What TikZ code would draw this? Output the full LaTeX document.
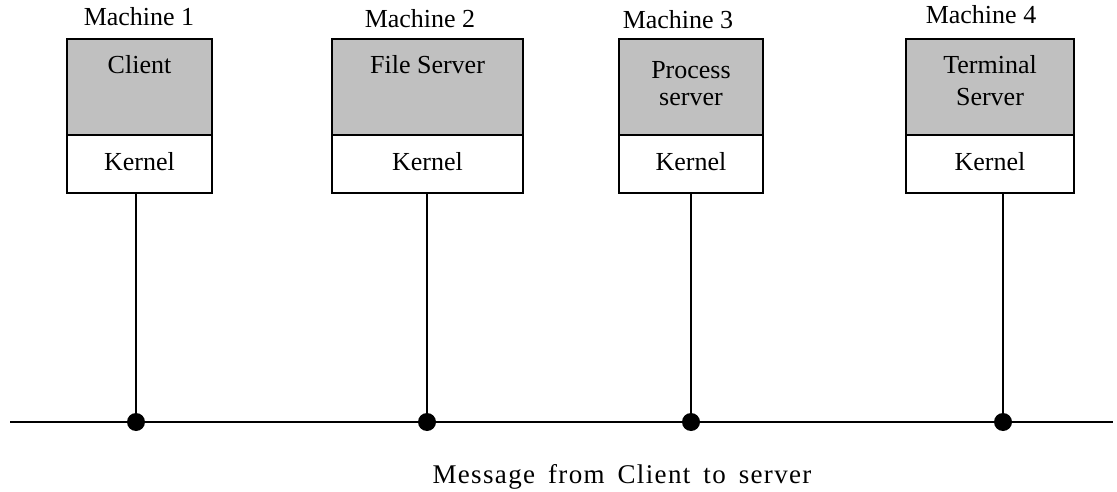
\documentclass[tikz,border=0pt]{standalone}
\usepackage{fontspec}
\setmainfont{Liberation Serif}
\newfontfamily\msgfont[LetterSpace=5]{Liberation Serif}
\definecolor{appgray}{HTML}{C0C0C0}
\begin{document}
\begin{tikzpicture}[x=1pt,y=-1pt,
  wire/.style={line width=1.8pt, black},
  appbox/.style={draw, line width=1.8pt, fill=appgray, rectangle, inner sep=0pt, minimum height=96pt},
  kernbox/.style={draw, line width=1.8pt, fill=white, rectangle, inner sep=0pt, minimum height=58pt},
  txt/.style={font=\fontsize{26}{30}\selectfont, inner sep=0pt, anchor=base},
  tap/.style={circle, fill=black, inner sep=0pt, minimum size=18pt}
]
\useasboundingbox (0,0) rectangle (1117,492);

% bus
\coordinate (busL) at (10,422);
\coordinate (busR) at (1113,422);
\draw[wire] (busL) -- (busR);

% machine boxes: application part (grey) and kernel part (white)
\node[appbox, minimum width=145pt] (app1) at (139.5,87) {};
\node[kernbox, minimum width=145pt] (ker1) at (139.5,164) {};
\node[appbox, minimum width=191pt] (app2) at (427.5,87) {};
\node[kernbox, minimum width=191pt] (ker2) at (427.5,164) {};
\node[appbox, minimum width=144pt] (app3) at (691,87) {};
\node[kernbox, minimum width=144pt] (ker3) at (691,164) {};
\node[appbox, minimum width=168pt] (app4) at (990,87) {};
\node[kernbox, minimum width=168pt] (ker4) at (990,164) {};

% machine labels
\node[txt] (m1) at (139,26) {Machine 1};
\node[txt] (m2) at (420,28) {Machine 2};
\node[txt] (m3) at (678,29) {Machine 3};
\node[txt] (m4) at (981,24) {Machine 4};

% box texts
\node[txt] (t1) at (139.5,74) {Client};
\node[txt] (t2) at (427.5,74) {File Server};
\node[txt] (t3a) at (691,79) {Process};
\node[txt] (t3b) at (691,106) {server};
\node[txt] (t4a) at (990,74) {Terminal};
\node[txt] (t4b) at (990,106) {Server};
\foreach \i/\x in {1/139.5,2/427.5,3/691,4/990}
  \node[txt] (k\i) at (\x,171) {Kernel};

% taps on the bus
\node[tap] (d1) at (136,422) {};
\node[tap] (d2) at (427,422) {};
\node[tap] (d3) at (691,422) {};
\node[tap] (d4) at (1003,422) {};
\draw[wire] (ker1.south -| d1) -- (d1.center);
\draw[wire] (ker2.south -| d2) -- (d2.center);
\draw[wire] (ker3.south -| d3) -- (d3.center);
\draw[wire] (ker4.south -| d4) -- (d4.center);

% caption
\node[inner sep=0pt, anchor=base, font=\msgfont\fontsize{27}{32}\selectfont] (msg) at (622,483)
  {Message\hspace{13pt}from\hspace{13pt}Client\hspace{13pt}to\hspace{13pt}server};
\end{tikzpicture}
\end{document}
